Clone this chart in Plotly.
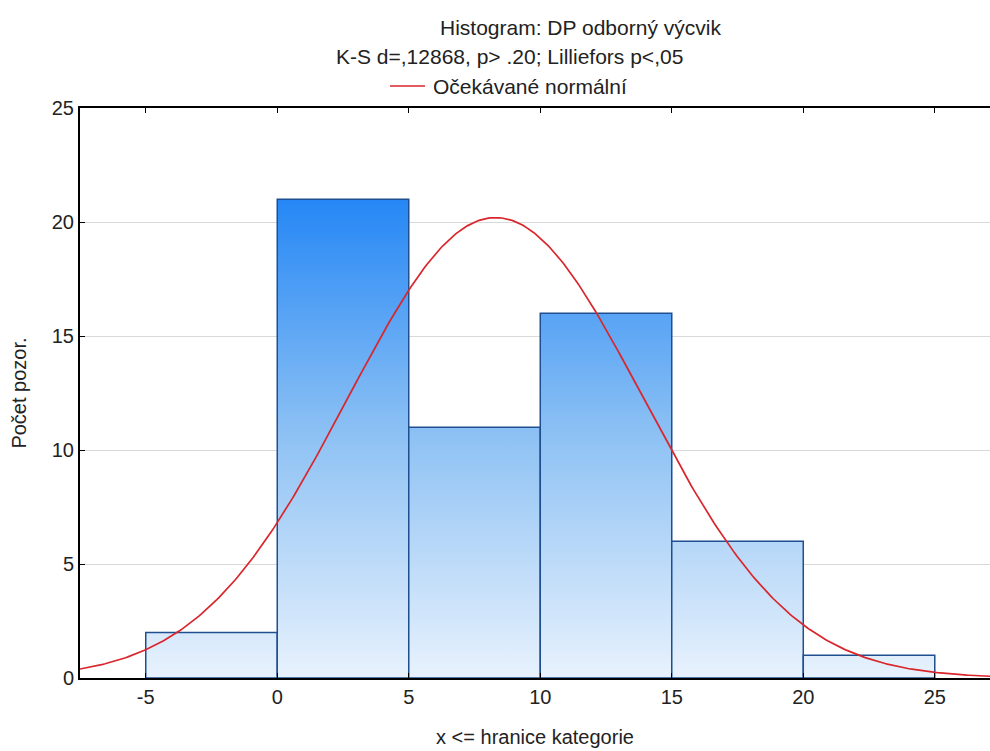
import numpy as np
import plotly.graph_objects as go

# Data
bin_edges = [-5, 0, 5, 10, 15, 20, 25]
counts = [2, 21, 11, 16, 6, 1]
x_tickvals = [-5, 0, 5, 10, 15, 20, 25]
x_ticktext = ["-5", "0", "5", "10", "15", "20", "25"]
y_tickvals = [0, 5, 10, 15, 20, 25]
# Expected normal curve parameters
mean_val = 8.3
sd_val = 5.63
n_obs = sum(counts)
bin_width = 5

title1 = "Histogram: DP odborný výcvik"
title2 = "K-S d=,12868, p> .20; Lilliefors p<,05"
legend_label = "Očekávané normální"
x_title = "x <= hranice kategorie"
y_title = "Počet pozor."

FONT = "Liberation Sans, Arial, sans-serif"
FS = 20

fig = go.Figure()
max_c = max(counts)
for i, c in enumerate(counts):
    x0, x1 = bin_edges[i], bin_edges[i + 1]
    fig.add_trace(go.Scatter(
        x=[x0, x0, x1, x1, x0], y=[0, c, c, 0, 0],
        mode="lines", fill="toself",
        line=dict(color="#1f4f8f", width=1.5),
        fillgradient=dict(type="vertical",
                          colorscale=[[0, "#e8f2fd"], [0.5, "#8fc2f4"], [1, "#2587f5"]],
                          start=0, stop=max_c),
        hoverinfo="skip", showlegend=False))

xs = np.linspace(-7.5, 27.1, 400)
ys = n_obs * bin_width / (sd_val * np.sqrt(2 * np.pi)) * np.exp(-(xs - mean_val) ** 2 / (2 * sd_val ** 2))
fig.add_trace(go.Scatter(x=xs, y=ys, mode="lines", line=dict(color="#d9262c", width=1.7),
                         showlegend=False, hoverinfo="skip"))

L, T, B = 80, 108, 73
pw, ph = 990 - L, 751 - T - B

def px2paper(px, py):
    return (px - L) / pw, 1 + (T - py) / ph

ann = []
for text, px, py, anchor in [(title1, 580, 27, "center"), (title2, 509, 57, "center"),
                              (legend_label, 431, 86, "left")]:
    ax, ay = px2paper(px, py)
    ann.append(dict(text=text, x=ax, y=ay, xref="paper", yref="paper", showarrow=False,
                    xanchor=anchor, yanchor="middle", font=dict(size=21)))

fig.update_layout(
    width=990, height=751,
    margin=dict(l=L, r=0, t=T, b=B),
    paper_bgcolor="white", plot_bgcolor="white",
    font=dict(family=FONT, size=FS, color="#222"),
    xaxis=dict(range=[-7.5, 27.1], tickvals=x_tickvals, ticktext=x_ticktext,
               showgrid=False, zeroline=False, showline=True, linecolor="black", linewidth=2,
               mirror="allticks", ticks="inside", ticklen=5, tickcolor="black",
               title=dict(text=x_title, standoff=23, font=dict(size=20)), tickfont=dict(size=FS)),
    yaxis=dict(range=[0, 25], tickvals=y_tickvals,
               showgrid=True, gridcolor="#d9d9d9", gridwidth=1, zeroline=False,
               showline=True, linecolor="black", linewidth=2,
               ticks="inside", ticklen=5, tickcolor="black",
               title=dict(text=y_title, standoff=20, font=dict(size=20)), tickfont=dict(size=FS)),
    annotations=ann,
)
lx0, ly = px2paper(390, 86)
lx1, _ = px2paper(425, 86)
fig.add_shape(type="line", xref="paper", yref="paper", x0=lx0, x1=lx1, y0=ly, y1=ly,
              line=dict(color="#d9262c", width=1.5))

fig.write_html("out.html")
